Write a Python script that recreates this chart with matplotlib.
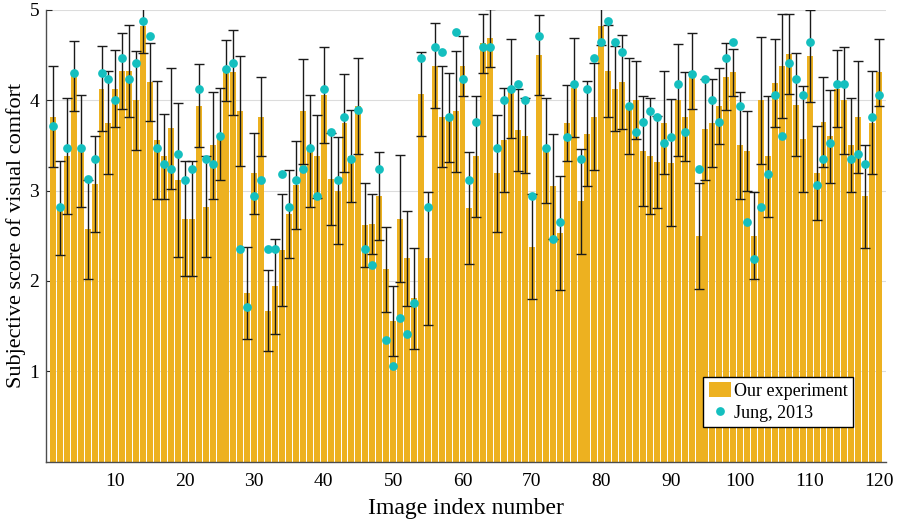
import numpy as np
import matplotlib
matplotlib.use("Agg")
import matplotlib.pyplot as plt

plt.rcParams['font.family'] = ['Liberation Serif', 'DejaVu Serif']

# Mean comfort score per image (our experiment), its standard deviation,
# and the published scores from Jung (2013) for the same 120 images.
image_index = np.arange(1, 121)

our_mean = [
    3.82, 2.81, 3.38, 4.27, 3.44, 2.57, 3.07, 4.13, 3.75, 4.13,
    4.32, 4.32, 4.00, 4.82, 4.20, 3.56, 3.38, 3.69, 3.12, 2.69,
    2.69, 3.94, 2.82, 3.50, 3.63, 4.33, 4.31, 3.88, 1.87, 3.19,
    3.82, 1.67, 1.94, 2.34, 2.74, 3.06, 3.88, 3.44, 3.38, 4.06,
    3.13, 3.00, 3.75, 3.38, 3.94, 2.62, 2.63, 2.94, 2.13, 1.56,
    2.69, 2.25, 1.81, 4.07, 2.25, 4.38, 3.82, 3.81, 3.88, 4.38,
    2.81, 3.38, 4.63, 4.69, 3.19, 3.56, 4.13, 3.67, 3.61, 2.38,
    4.50, 3.44, 3.05, 2.53, 3.75, 4.14, 2.88, 3.63, 3.82, 4.82,
    4.32, 4.13, 4.20, 3.94, 4.00, 3.44, 3.38, 3.32, 3.75, 3.31,
    4.00, 3.82, 4.32, 2.50, 3.68, 3.75, 3.94, 4.26, 4.31, 3.50,
    3.44, 2.50, 4.00, 3.38, 4.19, 4.38, 4.51, 3.95, 3.57, 4.49,
    3.19, 3.76, 3.60, 4.13, 4.00, 3.50, 3.82, 2.94, 3.75, 4.31,
]

our_std = [
    0.56, 0.52, 0.64, 0.39, 0.62, 0.55, 0.53, 0.47, 0.57, 0.43,
    0.42, 0.51, 0.55, 0.30, 0.43, 0.65, 0.47, 0.67, 0.85, 0.64,
    0.64, 0.46, 0.56, 0.59, 0.51, 0.34, 0.47, 0.61, 0.51, 0.45,
    0.44, 0.45, 0.53, 0.62, 0.49, 0.49, 0.58, 0.62, 0.46, 0.53,
    0.51, 0.59, 0.54, 0.51, 0.53, 0.47, 0.33, 0.49, 0.47, 0.39,
    0.70, 0.53, 0.56, 0.46, 0.74, 0.47, 0.56, 0.49, 0.67, 0.33,
    0.62, 0.67, 0.33, 0.32, 0.65, 0.58, 0.55, 0.45, 0.41, 0.58,
    0.44, 0.58, 0.58, 0.63, 0.42, 0.55, 0.58, 0.58, 0.59, 0.21,
    0.51, 0.47, 0.52, 0.53, 0.43, 0.61, 0.64, 0.51, 0.57, 0.70,
    0.62, 0.49, 0.42, 0.59, 0.56, 0.49, 0.42, 0.37, 0.26, 0.59,
    0.44, 0.48, 0.70, 0.67, 0.49, 0.58, 0.44, 0.57, 0.59, 0.51,
    0.52, 0.50, 0.51, 0.43, 0.59, 0.52, 0.62, 0.57, 0.57, 0.37,
]

jung_2013 = [
    3.72, 2.82, 3.47, 4.30, 3.47, 3.13, 3.35, 4.30, 4.24, 4.00,
    4.47, 4.24, 4.41, 4.88, 4.71, 3.47, 3.29, 3.24, 3.41, 3.12,
    3.24, 4.12, 3.35, 3.29, 3.60, 4.35, 4.41, 2.35, 1.71, 2.94,
    3.12, 2.35, 2.35, 3.18, 2.82, 3.12, 3.24, 3.47, 2.94, 4.12,
    3.65, 3.12, 3.82, 3.35, 3.89, 2.35, 2.18, 3.24, 1.35, 1.06,
    1.59, 1.41, 1.76, 4.47, 2.82, 4.59, 4.53, 3.82, 4.76, 4.24,
    3.12, 3.76, 4.59, 4.59, 3.47, 4.00, 4.12, 4.18, 4.00, 2.94,
    4.71, 3.47, 2.47, 2.65, 3.59, 4.18, 3.35, 4.12, 4.47, 4.65,
    4.88, 4.65, 4.53, 3.94, 3.65, 3.76, 3.88, 3.82, 3.53, 3.59,
    4.18, 3.65, 4.29, 3.24, 4.24, 4.00, 3.76, 4.47, 4.65, 3.94,
    2.65, 2.24, 2.82, 3.18, 4.06, 3.60, 4.41, 4.24, 4.06, 4.65,
    3.06, 3.35, 3.53, 4.18, 4.18, 3.35, 3.41, 3.29, 3.82, 4.06,
]

x_ticks = list(range(10, 121, 10))
y_ticks = [1, 2, 3, 4, 5]

bar_color = '#EDB120'
dot_color = '#14BFBF'

fig = plt.figure(figsize=(8.98, 5.22), dpi=100)
ax = fig.add_axes([0.0512, 0.1155, 0.9354, 0.8655])

ax.grid(axis='y', color='#dcdcdc', linewidth=0.8, zorder=0)
ax.set_axisbelow(True)

bars = ax.bar(image_index, our_mean, width=0.86, color=bar_color,
              edgecolor='none', zorder=2, label='Our experiment')
ax.errorbar(image_index, our_mean, yerr=our_std, fmt='none',
            ecolor='#1a1a1a', elinewidth=1.0, capsize=3.4, capthick=1.0,
            zorder=3)
dots, = ax.plot(image_index, jung_2013, 'o', color=dot_color,
                markersize=6.3, markeredgewidth=0, zorder=4,
                label='Jung, 2013')

ax.set_xlim(0, 121)
ax.set_ylim(0, 5)
ax.set_xticks(x_ticks)
ax.set_yticks(y_ticks)
ax.tick_params(direction='in', length=4, width=0.8, colors='#262626',
               labelsize=14, labelcolor='black')
ax.tick_params(axis='x', pad=8)
ax.tick_params(axis='y', pad=5)

for side in ('top', 'right'):
    ax.spines[side].set_visible(False)
for side in ('left', 'bottom'):
    ax.spines[side].set_color('#4d4d4d')
    ax.spines[side].set_linewidth(1.0)

ax.set_xlabel('Image index number', fontsize=17, labelpad=6)
ax.set_ylabel('Subjective score of visual comfort', fontsize=16, labelpad=2)

leg = ax.legend(handles=[bars, dots], labels=['Our experiment', 'Jung, 2013'],
                loc='lower right', bbox_to_anchor=(0.961, 0.077),
                fontsize=13, frameon=True, fancybox=False,
                edgecolor='black', framealpha=1.0, borderpad=0.3,
                handlelength=1.25, handleheight=0.9, handletextpad=0.15,
                labelspacing=0.2, borderaxespad=0.0)
leg.get_frame().set_linewidth(1.0)

fig.savefig('out.png', dpi=100)
